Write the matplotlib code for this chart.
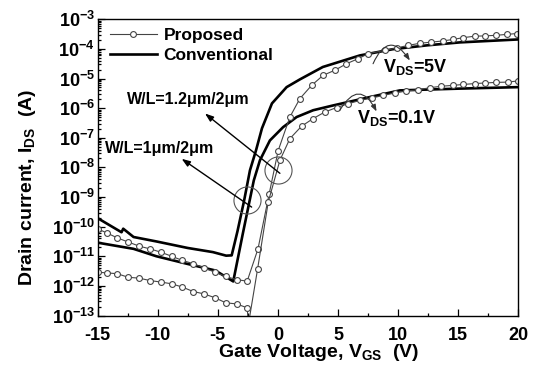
import numpy as np
import matplotlib
matplotlib.use("Agg")
import matplotlib.pyplot as plt
from matplotlib.ticker import MultipleLocator, LogLocator, NullFormatter
from matplotlib.lines import Line2D

plt.rcParams['font.family'] = ['Liberation Sans', 'DejaVu Sans']
plt.rcParams['font.weight'] = 'bold'
plt.rcParams['axes.labelweight'] = 'bold'
plt.rcParams['mathtext.default'] = 'regular'
plt.rcParams['axes.unicode_minus'] = False

# ---------------- data ----------------
conv_5v_vgs = [-15.0, -13.96, -13.0, -12.86, -12.0, -10.1, -7.5, -5.4, -4.3,
               -3.84, -3.36, -2.82, -2.32, -1.82, -1.32, -0.49, 0.73, 1.83,
               3.74, 6.82, 9.56, 12.39, 15.13, 20.0]
conv_5v_log = [-9.71, -9.96, -10.19, -10.07, -10.35, -10.5, -10.72, -10.86, -10.98,
               -10.97, -10.16, -9.15, -8.10, -7.43, -6.68, -5.84, -5.29, -5.03,
               -4.61, -4.22, -4.01, -3.88, -3.78, -3.68]

conv_01v_vgs = [-15.0, -12.0, -10.1, -7.6, -5.2, -3.71, -2.91, -2.0, -1.49,
                -0.66, 0.44, 1.56, 2.94, 4.58, 7.38, 10.15, 15.13, 20.0]
conv_01v_log = [-10.54, -10.75, -11.0, -11.25, -11.48, -11.85, -10.23, -8.44, -7.76,
                -7.09, -6.64, -6.30, -6.07, -5.91, -5.65, -5.40, -5.34, -5.29]

prop_5v_vgs = [-15.0, -14.24, -13.35, -12.44, -11.52, -10.64, -9.75, -8.83, -7.95,
               -7.04, -6.15, -5.23, -4.34, -3.43, -2.55, -1.65, -0.72, 0.03,
               1.0, 1.83, 2.81, 3.77, 4.74, 5.71, 6.68, 7.51, 8.90, 9.87,
               10.84, 11.81, 12.78, 13.74, 14.58, 15.41, 16.38, 17.21, 18.18,
               19.02, 19.9]
prop_5v_log = [-10.07, -10.21, -10.38, -10.52, -10.66, -10.75, -10.86, -11.0, -11.14,
               -11.25, -11.39, -11.54, -11.68, -11.79, -11.84, -10.75, -8.89, -7.43,
               -6.30, -5.68, -5.23, -4.89, -4.72, -4.50, -4.33, -4.16, -4.05, -3.97,
               -3.88, -3.81, -3.77, -3.73, -3.68, -3.62, -3.57, -3.56, -3.54,
               -3.51, -3.48]

prop_01v_vgs = [-15.0, -14.24, -13.35, -12.44, -11.52, -10.64, -9.75, -8.83, -7.95,
                -7.04, -6.15, -5.23, -4.34, -3.43, -2.55, -2.45, -1.68, -0.80,
                0.17, 1.0, 1.97, 2.94, 3.91, 4.88, 5.85, 6.82, 7.79, 8.76,
                9.73, 10.7, 11.67, 12.64, 13.61, 14.58, 15.41, 16.38, 17.21,
                18.18, 19.15, 19.98]
prop_01v_log = [-11.54, -11.56, -11.59, -11.71, -11.74, -11.82, -11.87, -11.93, -12.04,
                -12.19, -12.27, -12.40, -12.57, -12.61, -12.74, -13.3, -11.42, -9.17,
                -7.76, -7.03, -6.61, -6.35, -6.13, -5.98, -5.85, -5.74, -5.66, -5.57,
                -5.49, -5.42, -5.38, -5.31, -5.26, -5.23, -5.20, -5.17, -5.15,
                -5.13, -5.12, -5.08]

x_ticks = [-15, -10, -5, 0, 5, 10, 15, 20]
legend_labels = ['Proposed', 'Conventional']

# ---------------- figure ----------------
W, H = 533, 372
fig = plt.figure(figsize=(W / 100, H / 100), dpi=100)
ax = fig.add_axes([97.5 / W, 1 - 315.5 / H, (518.3 - 97.5) / W, (315.5 - 19.3) / H])

ax.set_yscale('log')
ax.set_xlim(-15, 20)
ax.set_ylim(1e-13, 1e-3)

thin = dict(color='#444444', lw=0.8, marker='o', ms=4.2, mfc='white',
            mec='#444444', mew=0.8)
thick = dict(color='black', lw=1.9)

ax.plot(conv_5v_vgs, 10 ** np.array(conv_5v_log), **thick)
ax.plot(conv_01v_vgs, 10 ** np.array(conv_01v_log), **thick)
ax.plot(prop_5v_vgs, 10 ** np.array(prop_5v_log), **thin)
ax.plot(prop_01v_vgs, 10 ** np.array(prop_01v_log), **thin)

# ticks
ax.set_xticks(x_ticks)
ax.xaxis.set_minor_locator(MultipleLocator(2.5))
ax.yaxis.set_major_locator(LogLocator(base=10, numticks=20))
ax.yaxis.set_minor_locator(LogLocator(base=10, subs=np.arange(2, 10), numticks=20))
ax.yaxis.set_minor_formatter(NullFormatter())
ax.tick_params(which='both', direction='in', top=False, right=False, width=0.9)
ax.tick_params(which='major', length=5)
ax.tick_params(which='minor', length=2.5)
ax.tick_params(axis='x', labelsize=13, pad=8)
ax.tick_params(axis='y', labelsize=13, pad=2)
for s in ax.spines.values():
    s.set_linewidth(1.0)

# legend
handles = [Line2D([], [], **thin), Line2D([], [], **thick)]
ax.legend(handles, legend_labels, loc='upper left', bbox_to_anchor=(0.0, 1.013),
          frameon=False, numpoints=1, handlelength=2.7, handletextpad=0.4,
          labelspacing=0.32, borderpad=0.2,
          prop={'weight': 'bold', 'size': 12.5})

# circles around curves
ax.plot([-2.55], [10 ** -9.1], marker='o', ms=19.5, mfc='none', mec='#555555', mew=0.8)
ax.plot([0.0], [10 ** -8.1], marker='o', ms=19.5, mfc='none', mec='#555555', mew=0.8)

# W/L annotations
arr = dict(arrowstyle='-|>,head_length=0.5,head_width=0.18', color='black', lw=1.0,
           shrinkA=0, shrinkB=0)
ax.annotate('', xy=(-6.06, 10 ** -6.18), xytext=(0.17, 10 ** -8.2), arrowprops=arr)
ax.annotate('', xy=(-8.0, 10 ** -7.71), xytext=(-2.18, 10 ** -9.34), arrowprops=arr)
ax.text(-12.55, 10 ** -5.70, 'W/L=1.2μm/2μm', fontsize=11.5, ha='left', va='center')
ax.text(-14.38, 10 ** -7.36, 'W/L=1μm/2μm', fontsize=11.5, ha='left', va='center')

# V_DS annotations
arc = dict(arrowstyle='-|>,head_length=0.4,head_width=0.15', color='#333333', lw=0.8,
           shrinkA=0, shrinkB=0, connectionstyle='arc3,rad=-0.9')
ax.annotate('', xy=(10.98, 10 ** -4.39), xytext=(7.92, 10 ** -4.50), arrowprops=arc)
ax.annotate('', xy=(8.21, 10 ** -6.11), xytext=(5.16, 10 ** -6.07), arrowprops=arc)
ax.text(8.73, 10 ** -4.79, '$V_{DS}$=5V', fontsize=13, ha='left', va='baseline')
ax.text(6.55, 10 ** -6.51, '$V_{DS}$=0.1V', fontsize=13, ha='left', va='baseline')

# axis labels
fig.text(318.5 / W, 1 - 357 / H, 'Gate Voltage, $V_{GS}$  (V)', fontsize=14,
         ha='center', va='baseline')
fig.text(32.5 / W, 1 - 187.5 / H, 'Drain current, $I_{DS}$  (A)', fontsize=14,
         rotation=90, rotation_mode='anchor', ha='center', va='baseline')

fig.savefig('out.png', dpi=100)
